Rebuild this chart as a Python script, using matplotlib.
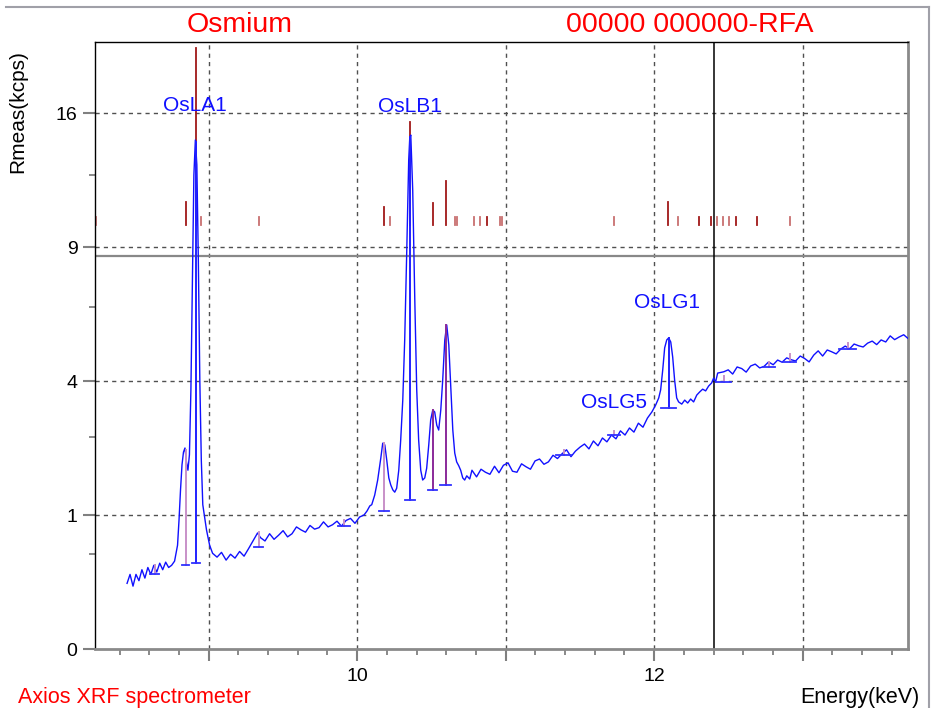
import numpy as np
import matplotlib.pyplot as plt
from matplotlib.lines import Line2D

plt.rcParams['font.family'] = ['Liberation Sans', 'DejaVu Sans']

# measured spectrum (keV, kcps)
energy = [8.45, 8.47, 8.49, 8.51, 8.53, 8.55, 8.57, 8.59, 8.61, 8.63, 8.65, 8.67, 8.69, 8.71, 8.73, 8.75, 8.77,
          8.79, 8.80, 8.81, 8.82, 8.83, 8.84, 8.85, 8.86, 8.87, 8.88, 8.89, 8.90, 8.91, 8.92, 8.93, 8.94, 8.95, 8.96,
          8.985, 9.006, 9.026, 9.056, 9.086, 9.117, 9.147, 9.177, 9.208, 9.238, 9.268, 9.298, 9.329, 9.349, 9.379,
          9.410, 9.440, 9.470, 9.501, 9.531, 9.561, 9.591, 9.622, 9.652, 9.682, 9.713, 9.743, 9.773, 9.804, 9.834,
          9.864, 9.894, 9.925, 9.955, 9.985, 10.016, 10.046, 10.066, 10.085, 10.098, 10.118, 10.138, 10.159, 10.172,
          10.186, 10.199, 10.213, 10.226, 10.240, 10.253, 10.266, 10.280, 10.293, 10.307, 10.320, 10.334, 10.347,
          10.354, 10.361, 10.374, 10.388, 10.401, 10.414, 10.428, 10.441, 10.455, 10.468, 10.482, 10.495, 10.509,
          10.522, 10.536, 10.549, 10.563, 10.576, 10.590, 10.603, 10.617, 10.630, 10.644, 10.657, 10.670, 10.684,
          10.697, 10.711, 10.724, 10.738, 10.758, 10.773, 10.804, 10.834, 10.864, 10.894, 10.925, 10.955, 10.985,
          11.016, 11.046, 11.076, 11.107, 11.137, 11.167, 11.198, 11.228, 11.258, 11.288, 11.319, 11.349, 11.379,
          11.410, 11.440, 11.470, 11.501, 11.531, 11.561, 11.591, 11.622, 11.652, 11.682, 11.713, 11.743, 11.773,
          11.804, 11.834, 11.864, 11.894, 11.925, 11.955, 11.985, 12.011, 12.031, 12.044, 12.058, 12.071, 12.085,
          12.098, 12.112, 12.125, 12.138, 12.152, 12.165, 12.186, 12.206, 12.226, 12.246, 12.266, 12.287, 12.307,
          12.327, 12.347, 12.367, 12.387, 12.401, 12.414, 12.428, 12.469, 12.499, 12.529, 12.559, 12.590, 12.620,
          12.650, 12.681, 12.711, 12.741, 12.771, 12.802, 12.832, 12.862, 12.893, 12.923, 12.953, 12.984, 13.014,
          13.044, 13.075, 13.105, 13.135, 13.166, 13.196, 13.226, 13.257, 13.287, 13.317, 13.347, 13.378, 13.408,
          13.438, 13.469, 13.499, 13.529, 13.560, 13.590, 13.620, 13.650, 13.681, 13.708]
rate = [0.24, 0.31, 0.22, 0.31, 0.26, 0.35, 0.28, 0.37, 0.31, 0.39, 0.33, 0.41, 0.35, 0.42, 0.37, 0.39, 0.43,
        0.60, 0.93, 1.41, 1.89, 2.16, 2.25, 1.95, 1.78, 2.10, 3.74, 7.58, 12.51, 14.43, 13.05, 8.43, 4.03, 1.99, 1.16,
        0.79, 0.60, 0.51, 0.47, 0.52, 0.44, 0.50, 0.46, 0.53, 0.48, 0.56, 0.65, 0.75, 0.69, 0.65,
        0.74, 0.67, 0.72, 0.78, 0.70, 0.74, 0.83, 0.79, 0.76, 0.85, 0.80, 0.82, 0.90, 0.83, 0.86,
        0.91, 0.84, 0.92, 0.95, 0.88, 0.97, 1.00, 1.06, 1.14, 1.16, 1.32, 1.59, 2.03, 2.36,
        2.32, 1.99, 1.63, 1.50, 1.41, 1.37, 1.44, 1.78, 2.43, 3.45, 5.32, 8.87, 13.32,
        14.54, 14.71, 11.73, 6.78, 3.74, 2.43, 1.78, 1.59, 1.63, 1.82, 2.32, 2.92, 3.18,
        3.13, 2.79, 2.67, 3.18, 4.03, 5.32, 5.85, 5.15, 3.88, 2.67, 2.14, 1.95, 1.87,
        1.78, 1.63, 1.59, 1.67, 1.61, 1.78, 1.65, 1.80, 1.74, 1.70, 1.86, 1.73, 1.88,
        1.93, 1.76, 1.74, 1.91, 1.85, 1.80, 1.97, 2.01, 1.90, 1.95, 2.09, 2.02, 2.12,
        2.21, 2.06, 2.18, 2.27, 2.34, 2.23, 2.41, 2.30, 2.48, 2.39, 2.55, 2.46, 2.65,
        2.55, 2.72, 2.62, 2.84, 2.74, 2.97, 3.13, 3.32, 3.51, 3.74, 4.34, 5.05, 5.32,
        5.39, 5.25, 4.75, 4.03, 3.51, 3.40, 3.34, 3.45, 3.37, 3.48, 3.40, 3.59, 3.68,
        3.76, 3.71, 3.85, 3.94, 4.09, 3.97, 4.24, 4.28, 4.34, 4.21, 4.43, 4.38, 4.27,
        4.46, 4.52, 4.40, 4.45, 4.59, 4.50, 4.65, 4.58, 4.72, 4.66, 4.62, 4.78, 4.70,
        4.59, 4.81, 4.95, 4.78, 4.98, 4.92, 4.85, 5.01, 5.11, 5.02, 5.18, 5.12, 5.08,
        5.21, 5.28, 5.16, 5.32, 5.25, 5.46, 5.33, 5.42, 5.50, 5.38]

# KLM line markers (energy, top), drawn up from a common base
stick_energy = [8.240, 8.846, 8.915, 8.951, 9.337, 10.179, 10.219, 10.356, 10.509, 10.596, 10.659, 10.675,
                10.790, 10.825, 10.873, 10.962, 10.976, 11.732, 12.093, 12.158, 12.302, 12.383, 12.426,
                12.464, 12.502, 12.554, 12.693, 12.918]
stick_top = [10.39, 11.13, 20.1, 10.39, 10.39, 10.88, 10.39, 15.47, 11.08, 12.20, 10.39, 10.39,
             10.39, 10.39, 10.39, 10.39, 10.39, 10.39, 11.13, 10.39, 10.39, 10.39, 10.39,
             10.39, 10.39, 10.39, 10.39, 10.39]
stick_dark = [0, 1, 1, 0, 0, 1, 0, 1, 1, 1, 0, 0,
              0, 0, 1, 0, 0, 0, 1, 0, 1, 1, 0,
              0, 0, 1, 1, 0]
stick_base = 10.0

# identified peaks: position, background, top
mark_energy = [8.635, 8.845, 8.915, 9.337, 9.91, 10.18, 10.356, 10.509, 10.596, 11.391, 11.732,
               12.098, 12.469, 12.771, 12.913, 13.303]
mark_low = [0.31, 0.39, 0.41, 0.58, 0.84, 1.06, 1.24, 1.41, 1.50, 2.10, 2.55,
            3.24, 3.97, 4.43, 4.59, 5.01]
mark_high = [0.39, 2.21, 14.3, 0.76, 0.93, 2.36, 14.6, 3.18, 5.85, 2.21, 2.65,
             5.39, 4.15, 4.59, 4.85, 5.21]
mark_kind = ["p", "p", "b", "p", "p", "p", "b", "v", "v", "p", "p",
             "b", "p", "p", "p", "p"]
mark_half = [0.03, 0.025, 0.025, 0.03, 0.04, 0.035, 0.035, 0.03, 0.035, 0.05, 0.04,
             0.05, 0.05, 0.04, 0.045, 0.055]

peak_names = ["OsLA1", "OsLB1", "OsLG1", "OsLG5"]
peak_x = [8.910, 10.354, 12.085, 11.731]
peak_y = [16.45, 16.42, 6.67, 3.38]

fig = plt.figure(figsize=(9.31, 7.08), dpi=100)
ax = fig.add_axes([95 / 931, 1 - 649 / 708, 813 / 931, 607 / 708])

ax.set_yscale('function', functions=(lambda v: np.sqrt(np.clip(v, 0, None)), lambda v: np.square(v)))
ax.set_xlim(8.234, 13.71)
ax.set_ylim(0, 20.52)

# grid
for gx in [9, 10, 11, 12, 13]:
    ax.axvline(gx, color='#505050', lw=1, ls=(0, (3, 3)), zorder=1)
for gy in [1, 4, 9, 16]:
    ax.axhline(gy, color='#505050', lw=1, ls=(0, (3, 3)), zorder=1)
ax.axhline(8.615, color='#888888', lw=1.6, zorder=1)
ax.axvline(12.4, color='black', lw=1.1, zorder=1)

# KLM sticks
for e, t, d in zip(stick_energy, stick_top, stick_dark):
    ax.plot([e, e], [stick_base, t], color='#a01818' if d else '#c87070', lw=1.3, zorder=2)

# spectrum
ax.plot(energy, rate, color='#1010ff', lw=1.0, zorder=3)

# peak markers
mark_colors = {"p": '#c890c8', "b": '#2020ff', "v": '#8a2a9a'}
for e, lo, hi, k, hw in zip(mark_energy, mark_low, mark_high, mark_kind, mark_half):
    ax.plot([e, e], [lo, hi], color=mark_colors[k], lw=1.4, zorder=4)
    ax.plot([e - hw, e + hw], [lo, lo], color='#3030ff', lw=1.3, zorder=4)

for name, px, py in zip(peak_names, peak_x, peak_y):
    ax.text(px, py, name, color='#1010ff', fontsize=15, ha='center', va='center', zorder=5)

# axes frame
for s in ['left', 'top']:
    ax.spines[s].set_color('black')
    ax.spines[s].set_linewidth(1.0)
for s in ['right', 'bottom']:
    ax.spines[s].set_color('#8a8a8a')
    ax.spines[s].set_linewidth(2.0)

ax.set_xticks([9, 10, 11, 12, 13])
ax.set_xticklabels(['', '10', '', '12', ''])
ax.set_xticks([8.4, 8.6, 8.8, 9.2, 9.4, 9.6, 9.8, 10.2, 10.4, 10.6, 10.8, 11.2, 11.4, 11.6, 11.8,
               12.2, 12.4, 12.6, 12.8, 13.2, 13.4, 13.6], minor=True)
ax.set_yticks([0, 1, 4, 9, 16])
ax.set_yticklabels(['0', '1', '4', '9', '16'])
ax.set_yticks([0.5, 2.5, 6.5, 12.5], minor=True)
ax.yaxis.set_minor_formatter(plt.NullFormatter())
ax.xaxis.set_minor_formatter(plt.NullFormatter())
ax.tick_params(which='major', length=8.6, width=1.5, color='#808080', labelsize=14, labelcolor='black')
ax.tick_params(which='minor', length=4.3, width=1.3, color='#808080')
ax.tick_params(axis='y', which='major', pad=4)
ax.tick_params(axis='x', which='major', pad=5)

# texts
fig.text(240 / 931, 1 - 25 / 708, 'Osmium', color='red', fontsize=20.5, ha='center', va='center')
fig.text(690 / 931, 1 - 25 / 708, '00000 000000-RFA', color='red', fontsize=20.5, ha='center', va='center')
fig.text(18 / 931, 1 - 697 / 708, 'Axios XRF spectrometer', color='red', fontsize=15.5, ha='left', va='center')
fig.text(920 / 931, 1 - 697 / 708, 'Energy(keV)', color='black', fontsize=15.5, ha='right', va='center')
fig.text(18 / 931, 1 - 112 / 708, 'Rmeas(kcps)', color='black', fontsize=15, ha='center', va='center',
         rotation=90)

# outer window border
fig.add_artist(Line2D([6 / 931, 929 / 931], [1 - 7 / 708, 1 - 7 / 708], color='#a0a0a8', lw=1.5))
fig.add_artist(Line2D([929 / 931, 929 / 931], [1 - 7 / 708, 0], color='#a0a0a8', lw=1.5))

fig.savefig('out.png', dpi=100)
